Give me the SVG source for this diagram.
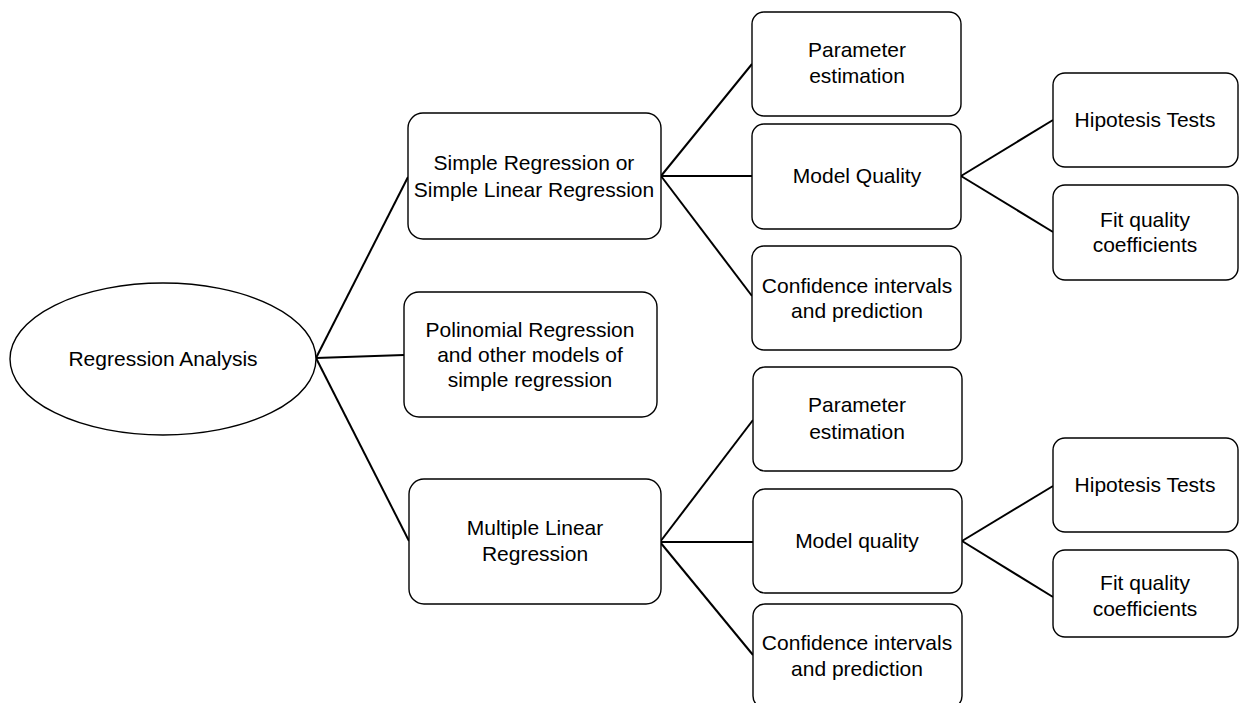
<svg xmlns="http://www.w3.org/2000/svg" width="1240" height="703" viewBox="0 0 1240 703">
<style>
.n{fill:#fff;stroke:#000;stroke-width:1.4}
.t{font-family:"Liberation Sans",Arial,sans-serif;font-size:21px;fill:#000;text-anchor:middle}
.c{stroke:#000;stroke-width:2;fill:none}
</style>
<rect width="1240" height="703" fill="#fff"/>
<g id="connectors">
<line class="c" x1="316" y1="358" x2="408" y2="177"/>
<line class="c" x1="316" y1="358" x2="404" y2="355"/>
<line class="c" x1="316" y1="358" x2="409" y2="541"/>
<line class="c" x1="661" y1="176" x2="752" y2="64"/>
<line class="c" x1="661" y1="176" x2="752" y2="176"/>
<line class="c" x1="661" y1="176" x2="752" y2="296"/>
<line class="c" x1="961" y1="176" x2="1053" y2="120"/>
<line class="c" x1="961" y1="176" x2="1053" y2="232"/>
<line class="c" x1="660" y1="542" x2="753" y2="420"/>
<line class="c" x1="660" y1="542" x2="753" y2="542"/>
<line class="c" x1="660" y1="542" x2="753" y2="655"/>
<line class="c" x1="962" y1="541" x2="1053" y2="486"/>
<line class="c" x1="962" y1="541" x2="1053" y2="597"/>
</g>
<g id="root">
<ellipse class="n" cx="163" cy="359" rx="153" ry="76"/>
<text class="t" x="163" y="366">Regression Analysis</text>
</g>
<g id="simple">
<rect class="n" x="408" y="113" width="253" height="126" rx="15"/>
<text class="t" x="534" y="170">Simple Regression or</text>
<text class="t" x="534" y="197">Simple Linear Regression</text>
</g>
<g id="poly">
<rect class="n" x="404" y="292" width="253" height="125" rx="15"/>
<text class="t" x="530" y="337">Polinomial Regression</text>
<text class="t" x="530" y="362">and other models of</text>
<text class="t" x="530" y="387">simple regression</text>
</g>
<g id="multiple">
<rect class="n" x="409" y="479" width="252" height="125" rx="15"/>
<text class="t" x="535" y="535">Multiple Linear</text>
<text class="t" x="535" y="561">Regression</text>
</g>
<g id="param1">
<rect class="n" x="752" y="12" width="209" height="104" rx="12"/>
<text class="t" x="857" y="57">Parameter</text>
<text class="t" x="857" y="83">estimation</text>
</g>
<g id="quality1">
<rect class="n" x="752" y="124" width="209" height="105" rx="12"/>
<text class="t" x="857" y="183">Model Quality</text>
</g>
<g id="conf1">
<rect class="n" x="752" y="246" width="209" height="104" rx="12"/>
<text class="t" x="857" y="293">Confidence intervals</text>
<text class="t" x="857" y="318">and prediction</text>
</g>
<g id="hyp1">
<rect class="n" x="1053" y="73" width="185" height="94" rx="12"/>
<text class="t" x="1145" y="127">Hipotesis Tests</text>
</g>
<g id="fit1">
<rect class="n" x="1053" y="185" width="185" height="95" rx="12"/>
<text class="t" x="1145" y="227">Fit quality</text>
<text class="t" x="1145" y="252">coefficients</text>
</g>
<g id="param2">
<rect class="n" x="753" y="367" width="209" height="104" rx="12"/>
<text class="t" x="857" y="412">Parameter</text>
<text class="t" x="857" y="439">estimation</text>
</g>
<g id="quality2">
<rect class="n" x="753" y="489" width="209" height="104" rx="12"/>
<text class="t" x="857" y="548">Model quality</text>
</g>
<g id="conf2">
<rect class="n" x="753" y="604" width="209" height="104" rx="12"/>
<text class="t" x="857" y="650">Confidence intervals</text>
<text class="t" x="857" y="676">and prediction</text>
</g>
<g id="hyp2">
<rect class="n" x="1053" y="438" width="185" height="94" rx="12"/>
<text class="t" x="1145" y="492">Hipotesis Tests</text>
</g>
<g id="fit2">
<rect class="n" x="1053" y="550" width="185" height="87" rx="12"/>
<text class="t" x="1145" y="590">Fit quality</text>
<text class="t" x="1145" y="616">coefficients</text>
</g>
</svg>
